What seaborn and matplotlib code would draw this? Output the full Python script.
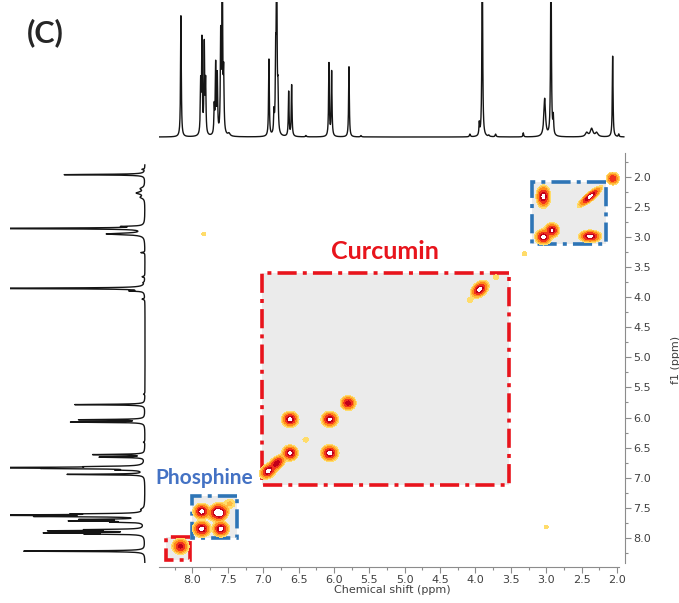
import numpy as np
import pandas as pd
import matplotlib
matplotlib.use("Agg")
import matplotlib.pyplot as plt
from matplotlib.patches import Rectangle
from matplotlib.ticker import MultipleLocator, FormatStrFormatter
import seaborn as sns

# ---- 1H spectrum peak list (ppm, relative height, half width at half max in ppm)
h_shift = [8.163, 7.884, 7.866, 7.833, 7.814, 7.692, 7.672, 7.649, 7.601, 7.579,
           7.559, 7.484, 6.919, 6.848, 6.824, 6.810, 6.792, 6.640, 6.598, 6.396,
           6.071, 6.033, 5.788, 5.618, 4.078, 3.946, 3.904, 3.810, 3.715, 3.324,
           3.022, 2.933, 2.900, 2.428, 2.358, 2.287, 2.061, 1.975]
h_height = [0.90, 0.37, 0.69, 0.66, 0.38, 0.20, 0.51, 0.43, 0.70, 1.50,
            0.41, 0.02, 0.57, 0.15, 0.50, 1.50, 0.28, 0.33, 0.38, 0.01,
            0.54, 0.48, 0.52, 0.01, 0.02, 0.09, 1.50, 0.01, 0.02, 0.03,
            0.28, 1.50, 0.13, 0.03, 0.06, 0.03, 0.60, 0.02]
h_width = [0.006, 0.006, 0.006, 0.006, 0.006, 0.006, 0.006, 0.006, 0.006, 0.006,
           0.006, 0.018, 0.006, 0.006, 0.006, 0.006, 0.006, 0.006, 0.006, 0.008,
           0.006, 0.006, 0.006, 0.008, 0.008, 0.006, 0.006, 0.008, 0.008, 0.006,
           0.014, 0.006, 0.006, 0.022, 0.022, 0.022, 0.006, 0.006]

# ---- COSY cross peaks (f2, f1 in ppm, amplitude, spread in ppm, correlation)
cosy_f2 = [2.06, 3.04, 2.38, 2.92, 3.04, 2.38, 3.31,
           3.94, 4.08, 3.71, 5.80, 6.62, 6.06, 6.62, 6.06, 6.40, 6.81, 6.93,
           8.17, 7.87, 7.66, 7.60, 7.87, 7.60, 7.47, 7.84, 3.00]
cosy_f1 = [2.03, 2.33, 2.33, 2.89, 3.00, 2.99, 3.28,
           3.87, 4.05, 3.67, 5.76, 6.03, 6.03, 6.59, 6.59, 6.37, 6.76, 6.89,
           8.14, 7.56, 7.56, 7.60, 7.85, 7.85, 7.43, 2.95, 7.82]
cosy_amp = [0.55, 1.0, 0.95, 0.9, 1.0, 1.0, 0.03,
            1.0, 0.035, 0.035, 0.8, 1.0, 0.95, 0.95, 1.0, 0.035, 0.8, 1.0,
            0.7, 1.0, 0.9, 0.9, 1.0, 1.0, 0.06, 0.028, 0.028]
cosy_sx = [0.036, 0.038, 0.065, 0.040, 0.044, 0.060, 0.036,
           0.048, 0.036, 0.036, 0.042, 0.045, 0.045, 0.043, 0.047, 0.036, 0.048, 0.044,
           0.046, 0.045, 0.048, 0.044, 0.047, 0.045, 0.048, 0.036, 0.036]
cosy_sy = [0.042, 0.070, 0.065, 0.046, 0.048, 0.038, 0.036,
           0.054, 0.036, 0.036, 0.046, 0.049, 0.049, 0.049, 0.051, 0.036, 0.054, 0.049,
           0.051, 0.049, 0.055, 0.051, 0.051, 0.049, 0.048, 0.036, 0.036]
cosy_rho = [0.0, 0.0, 0.85, 0.0, 0.0, 0.0, 0.0,
            0.4, 0.0, 0.0, 0.0, 0.0, 0.0, 0.0, 0.0, 0.0, 0.5, 0.3,
            0.0, 0.0, 0.3, 0.3, 0.0, 0.0, 0.0, 0.0, 0.0]

# ---- highlighted regions (f2 range, f1 range, colour)
box_f2_lo = [2.16, 3.52, 7.37, 8.03]
box_f2_hi = [3.20, 7.02, 8.00, 8.37]
box_f1_lo = [2.09, 3.60, 7.30, 7.99]
box_f1_hi = [3.11, 7.12, 8.00, 8.36]
box_color = ["#2E75B6", "#E8141C", "#2E75B6", "#E8141C"]

region_names = ["Curcumin", "Phosphine"]
region_f2 = [5.28, 7.84]
region_f1 = [3.25, 7.00]
region_size = [18, 15]
region_color = ["#E8141C", "#4472C4"]

x_ticks = [8.0, 7.5, 7.0, 6.5, 6.0, 5.5, 5.0, 4.5, 4.0, 3.5, 3.0, 2.5, 2.0]
y_ticks = [2.0, 2.5, 3.0, 3.5, 4.0, 4.5, 5.0, 5.5, 6.0, 6.5, 7.0, 7.5, 8.0]

contour_levels = [0.02, 0.05, 0.12, 0.30, 0.60, 0.86, 50.0]
contour_colors = ["#FFDC6A", "#FFBA40", "#FF8A1A", "#F0321E", "#C0001A", "#FFFFFF"]

sns.set_theme(style="white")
plt.rcParams["font.family"] = ["DejaVu Sans"]

W, H = 679, 603
fig = plt.figure(figsize=(W / 100, H / 100), dpi=100)


def frac(x0, y0, x1, y1):
    return [x0 / W, 1 - y1 / H, (x1 - x0) / W, (y1 - y0) / H]


ax = fig.add_axes(frac(159, 153, 625, 567))
ax_top = fig.add_axes(frac(159, 2, 625, 140))
ax_left = fig.add_axes(frac(10, 152, 148, 563))

# ---- 1D projection built from the peak list (Lorentzian lines)
ppm = np.linspace(1.90, 8.50, 9000)
intensity = np.zeros_like(ppm)
for c, h, w in zip(h_shift, h_height, h_width):
    intensity += h * w ** 2 / ((ppm - c) ** 2 + w ** 2)
spec = pd.DataFrame({"ppm": ppm, "intensity": intensity})

sns.lineplot(data=spec, x="ppm", y="intensity", ax=ax_top, color="#151515",
             linewidth=1.0, sort=False, estimator=None)
ax_top.set_xlim(8.473, 1.887)
ax_top.set_ylim(-0.022, 1.0)
ax_top.axis("off")

sns.lineplot(data=spec, x="intensity", y="ppm", ax=ax_left, color="#151515",
             linewidth=1.0, sort=False, estimator=None, orient="y")
ax_left.set_xlim(1.0, -0.022)
ax_left.set_ylim(8.355, 1.694)
ax_left.axis("off")

# ---- 2D COSY map
gx = np.linspace(1.85, 8.55, 1400)
gy = np.linspace(1.55, 8.55, 1400)
GX, GY = np.meshgrid(gx, gy)
Z = np.zeros_like(GX)
for x0, y0, a, sx, sy, r in zip(cosy_f2, cosy_f1, cosy_amp, cosy_sx, cosy_sy, cosy_rho):
    dx = (GX - x0) / sx
    dy = (GY - y0) / sy
    Z += a * np.exp(-(dx ** 2 - 2 * r * dx * dy + dy ** 2) / (2 * (1 - r ** 2)))

dash = (0, (5.3, 1.7, 1.1, 1.7))
for lo2, hi2, lo1, hi1, col in zip(box_f2_lo, box_f2_hi, box_f1_lo, box_f1_hi, box_color):
    ax.add_patch(Rectangle((lo2, lo1), hi2 - lo2, hi1 - lo1, facecolor="#EBEBEB",
                           edgecolor="none", zorder=1, clip_on=False))
    ax.add_patch(Rectangle((lo2, lo1), hi2 - lo2, hi1 - lo1, facecolor="none",
                           edgecolor=col, linewidth=2.6, linestyle=dash, zorder=2,
                           clip_on=False))

ax.contourf(GX, GY, Z, levels=contour_levels, colors=contour_colors, zorder=3)

for name, x0, y0, fs, col in zip(region_names, region_f2, region_f1, region_size, region_color):
    ax.text(x0, y0, name, color=col, fontsize=fs, fontweight="bold",
            ha="center", va="center", family="Lato", zorder=4)

ax.set_xlim(8.473, 1.887)
ax.set_ylim(8.483, 1.606)
ax.set_xticks(x_ticks)
ax.set_yticks(y_ticks)
ax.xaxis.set_minor_locator(MultipleLocator(0.25))
ax.yaxis.set_minor_locator(MultipleLocator(0.25))
ax.xaxis.set_major_formatter(FormatStrFormatter("%.1f"))
ax.yaxis.set_major_formatter(FormatStrFormatter("%.1f"))
ax.yaxis.tick_right()
ax.yaxis.set_label_position("right")
for side in ("left", "top"):
    ax.spines[side].set_visible(False)
for side in ("bottom", "right"):
    ax.spines[side].set_color("#8C8C8C")
    ax.spines[side].set_linewidth(0.8)
ax.spines["bottom"].set_bounds(8.473, 1.972)
ax.spines["right"].set_bounds(1.606, 8.417)
ax.tick_params(which="both", direction="out", color="#8C8C8C", width=0.8,
               labelsize=8, labelcolor="#404040", bottom=True, right=True,
               left=False, top=False)
ax.tick_params(which="major", length=4, pad=2)
ax.tick_params(which="minor", length=2.5)
ax.set_xlabel("Chemical shift (ppm)", fontsize=8, color="#404040", labelpad=0)
ax.set_ylabel("f1 (ppm)", fontsize=8, color="#404040", labelpad=14)
ax.grid(False)
ax.set_facecolor("none")

fig.text(45 / W, 1 - 33 / H, "(C)", fontsize=22, fontweight="bold",
         ha="center", va="center", family="Lato")

fig.savefig("out.png", dpi=100)
